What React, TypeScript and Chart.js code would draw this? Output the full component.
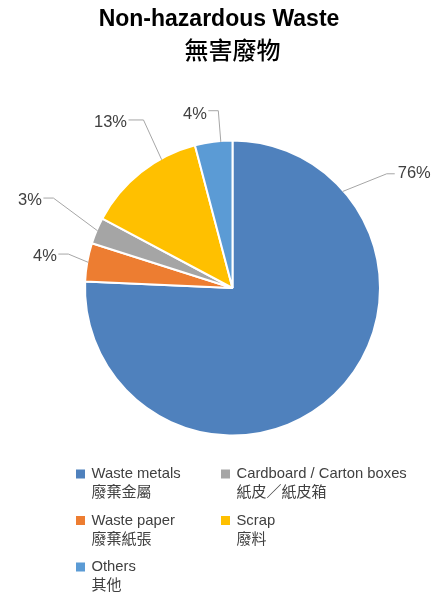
import React, { useEffect, useRef } from 'react';
import { Chart, registerables } from 'chart.js';

Chart.register(...registerables);

// ---- data ----
const TITLE = 'Non-hazardous Waste';
const SUBTITLE = '無害廢物';
const CATEGORIES_EN = ['Waste metals', 'Waste paper', 'Cardboard / Carton boxes', 'Scrap', 'Others'];
const CATEGORIES_ZH = ['廢棄金屬', '廢棄紙張', '紙皮／紙皮箱', '廢料', '其他'];
const VALUES = [75.7, 4.2, 2.9, 13.1, 4.1];
const COLORS = ['#4F81BD', '#ED7D31', '#A5A5A5', '#FFC000', '#5B9BD5'];
const LEGEND_ORDER = [0, 2, 1, 3, 4];

// ---- label / legend styling ----
const LABEL_ANCHOR = [0.179, 0.5, 0.51, 0.7, 0.69];
const LABEL_ELBOW_SHIFT = [4.7, 1.6, 3.7, 1.0, 0];
const LABEL_ELBOW_RADIUS = [1.31, 1.144, 1.368, 1.298, 1.214];
const LABEL_ARM = [8, 10, 10, 15, 10];
const LABEL_DY = [-0.5, 2.4, 2.7, 2, 4];

const FONT = "'Liberation Sans', Arial, 'Noto Sans CJK TC', sans-serif";
const TEXT_COLOR = '#404040';

const titlePlugin = {
  id: 'customTitle',
  afterDraw(chart: any) {
    const { ctx, chartArea } = chart;
    ctx.save();
    ctx.fillStyle = '#000';
    ctx.textAlign = 'center';
    ctx.textBaseline = 'middle';
    ctx.font = `bold 23px ${FONT}`;
    ctx.fillText(TITLE, chart.width / 2, 20);
    ctx.font = `500 24px 'Noto Sans CJK TC', sans-serif`;
    ctx.fillText(SUBTITLE, (chartArea.left + chartArea.right) / 2, 50);
    ctx.restore();
  },
};

const labelPlugin = {
  id: 'leaderLabels',
  afterDatasetsDraw(chart: any) {
    const { ctx } = chart;
    const meta = chart.getDatasetMeta(0);
    const data = chart.data.datasets[0].data as number[];
    const total = data.reduce((a, b) => a + b, 0);
    ctx.save();
    meta.data.forEach((arc: any, i: number) => {
      const { x, y, startAngle, endAngle, outerRadius } = arc.getProps(
        ['x', 'y', 'startAngle', 'endAngle', 'outerRadius'],
        true
      );
      const r = outerRadius - 1;
      const a = startAngle + (endAngle - startAngle) * LABEL_ANCHOR[i];
      const p0x = x + r * Math.cos(a);
      const p0y = y + r * Math.sin(a);
      const ea = a + (LABEL_ELBOW_SHIFT[i] * Math.PI) / 180;
      const er = r * LABEL_ELBOW_RADIUS[i];
      const p1x = x + er * Math.cos(ea);
      const p1y = y + er * Math.sin(ea);
      const dir = p1x >= x ? 1 : -1;
      const p2x = p1x + dir * LABEL_ARM[i];
      ctx.strokeStyle = '#A6A6A6';
      ctx.lineWidth = 1;
      ctx.beginPath();
      ctx.moveTo(p0x, p0y);
      ctx.lineTo(p1x, p1y);
      ctx.lineTo(p2x, p1y);
      ctx.stroke();
      ctx.fillStyle = TEXT_COLOR;
      ctx.font = `16.5px ${FONT}`;
      ctx.textBaseline = 'middle';
      ctx.textAlign = dir > 0 ? 'left' : 'right';
      const pct = Math.round((data[i] / total) * 100) + '%';
      ctx.fillText(pct, p2x + dir * (dir > 0 ? 3 : 1.5), p1y + LABEL_DY[i]);
    });
    ctx.restore();
  },
};

const LEGEND_COL_X = [76, 221];
const LEGEND_ROW_Y = [474, 520.5, 567];

const legendPlugin = {
  id: 'twoLineLegend',
  afterDraw(chart: any) {
    const { ctx } = chart;
    const ds = chart.data.datasets[0];
    ctx.save();
    LEGEND_ORDER.forEach((idx, k) => {
      const col = k % 2;
      const row = Math.floor(k / 2);
      const bx = LEGEND_COL_X[col];
      const by = LEGEND_ROW_Y[row];
      ctx.fillStyle = (ds.backgroundColor as string[])[idx];
      ctx.fillRect(bx, by - 4.5, 9, 9);
      ctx.fillStyle = TEXT_COLOR;
      ctx.textAlign = 'left';
      ctx.textBaseline = 'middle';
      ctx.font = `14.8px ${FONT}`;
      ctx.fillText(CATEGORIES_EN[idx], bx + 15.5, by);
      ctx.font = `15px 'Noto Sans CJK TC', sans-serif`;
      ctx.fillText(CATEGORIES_ZH[idx], bx + 15.5, by + 17.5);
    });
    ctx.restore();
  },
};

export default function App() {
  const canvasRef = useRef<HTMLCanvasElement | null>(null);

  useEffect(() => {
    document.body.style.margin = '0';
    const canvas = canvasRef.current;
    if (!canvas) return;
    const chart = new Chart(canvas, {
      type: 'pie',
      data: {
        labels: CATEGORIES_EN,
        datasets: [
          {
            data: VALUES,
            backgroundColor: COLORS,
            borderColor: '#FFFFFF',
            borderWidth: 2,
            radius: 147.5,
          } as any,
        ],
      },
      options: {
        animation: false,
        responsive: true,
        maintainAspectRatio: false,
        events: [],
        layout: { padding: { left: 85, right: 58, top: 140, bottom: 156 } },
        plugins: {
          legend: { display: false },
          tooltip: { enabled: false },
          title: { display: false },
        },
      },
      plugins: [labelPlugin, legendPlugin, titlePlugin],
    });
    return () => chart.destroy();
  }, []);

  return (
    <div style={{ position: 'relative', width: 438, height: 592, background: '#fff' }}>
      <canvas ref={canvasRef} />
    </div>
  );
}
